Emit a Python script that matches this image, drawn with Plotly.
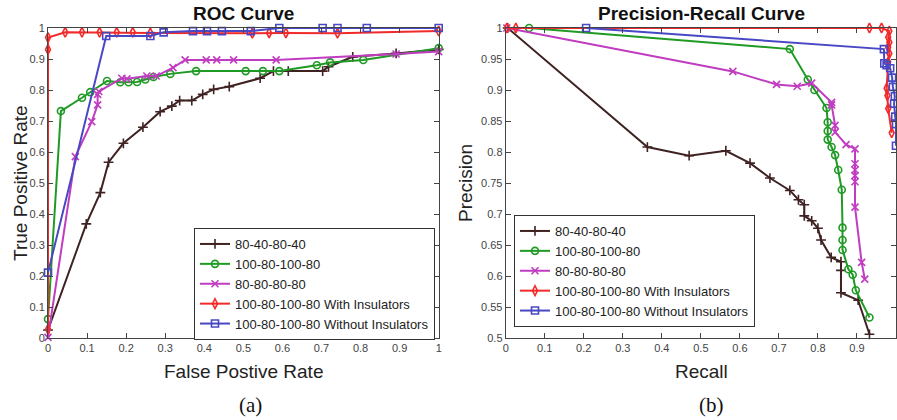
import plotly.graph_objects as go

# ---------------- ROC data ----------------
roc_b_x = [0, 0.098, 0.134, 0.155, 0.193, 0.243, 0.287, 0.317, 0.337, 0.368, 0.396, 0.424, 0.464, 0.543, 0.577, 0.615, 0.703, 0.718, 0.780, 0.891, 1.0]
roc_b_y = [0.026, 0.368, 0.469, 0.567, 0.628, 0.680, 0.730, 0.748, 0.766, 0.766, 0.786, 0.802, 0.811, 0.838, 0.861, 0.861, 0.861, 0.875, 0.907, 0.918, 0.931]

roc_g_x = [0, 0.033, 0.087, 0.108, 0.151, 0.185, 0.206, 0.228, 0.249, 0.270, 0.313, 0.379, 0.506, 0.550, 0.592, 0.688, 0.722, 0.807, 1.0]
roc_g_y = [0.061, 0.732, 0.775, 0.793, 0.829, 0.825, 0.825, 0.826, 0.834, 0.842, 0.852, 0.861, 0.861, 0.861, 0.861, 0.880, 0.889, 0.897, 0.935]

roc_m_x = [0, 0.070, 0.112, 0.127, 0.127, 0.130, 0.189, 0.202, 0.253, 0.277, 0.320, 0.351, 0.405, 0.432, 0.475, 0.584, 0.891, 1.0]
roc_m_y = [0.002, 0.585, 0.698, 0.752, 0.786, 0.795, 0.838, 0.836, 0.845, 0.845, 0.872, 0.897, 0.897, 0.897, 0.897, 0.897, 0.916, 0.924]

roc_r_x = [0, 0, 0, 0.044, 0.087, 0.132, 0.176, 0.217, 0.262, 0.523, 0.566, 0.609, 0.741, 1.0]
roc_r_y = [0.028, 0.931, 0.969, 0.986, 0.986, 0.986, 0.986, 0.986, 0.984, 0.983, 0.984, 0.984, 0.983, 0.990]

roc_u_x = [0, 0.149, 0.262, 0.296, 0.371, 0.407, 0.445, 0.519, 0.592, 0.703, 0.741, 0.816, 1.0]
roc_u_y = [0.211, 0.974, 0.974, 0.986, 0.990, 0.990, 0.990, 0.990, 1.0, 1.0, 1.0, 1.0, 1.0]

# ---------------- PR data ----------------
pr_b_x = [0.005, 0.363, 0.470, 0.564, 0.626, 0.677, 0.728, 0.750, 0.765, 0.765, 0.784, 0.800, 0.808, 0.834, 0.859, 0.859, 0.859, 0.903, 0.932]
pr_b_y = [1.0, 0.808, 0.794, 0.802, 0.782, 0.758, 0.738, 0.723, 0.715, 0.697, 0.689, 0.677, 0.658, 0.630, 0.623, 0.609, 0.573, 0.561, 0.506]

pr_g_x = [0.060, 0.728, 0.774, 0.791, 0.822, 0.825, 0.825, 0.825, 0.835, 0.844, 0.852, 0.861, 0.863, 0.863, 0.863, 0.878, 0.889, 0.897, 0.932]
pr_g_y = [1.0, 0.966, 0.917, 0.900, 0.871, 0.848, 0.834, 0.820, 0.808, 0.795, 0.771, 0.739, 0.678, 0.658, 0.642, 0.611, 0.602, 0.577, 0.533]

pr_m_x = [0.003, 0.582, 0.694, 0.747, 0.784, 0.835, 0.835, 0.844, 0.844, 0.872, 0.895, 0.895, 0.895, 0.895, 0.895, 0.895, 0.912, 0.920]
pr_m_y = [1.0, 0.930, 0.909, 0.906, 0.911, 0.880, 0.876, 0.843, 0.832, 0.812, 0.805, 0.781, 0.771, 0.762, 0.752, 0.711, 0.622, 0.595]

pr_r_x = [0.003, 0.026, 0.932, 0.963, 0.983, 0.980, 0.983, 0.980, 0.983, 0.980, 0.976, 0.978, 0.980, 0.989]
pr_r_y = [1.0, 1.0, 1.0, 1.0, 0.995, 0.985, 0.977, 0.969, 0.959, 0.945, 0.903, 0.891, 0.870, 0.831]

pr_u_x = [0.206, 0.969, 0.970, 0.976, 0.985, 0.990, 0.992, 0.997, 0.995, 0.998, 1.0, 1.0]
pr_u_y = [1.0, 0.966, 0.943, 0.940, 0.935, 0.920, 0.905, 0.890, 0.878, 0.857, 0.845, 0.810]

names = ["80-40-80-40", "100-80-100-80", "80-80-80-80",
         "100-80-100-80 With Insulators", "100-80-100-80 Without Insulators"]
colors = ["#3f2222", "#1f9a25", "#c03cc0", "#f22a2a", "#4848c4"]
symbols = ["cross-thin-open", "circle-open", "x-thin-open", "diamond-tall-open", "square-open"]

x01_ticks = [0, 0.1, 0.2, 0.3, 0.4, 0.5, 0.6, 0.7, 0.8, 0.9, 1]
x01_text = ["0", "0.1", "0.2", "0.3", "0.4", "0.5", "0.6", "0.7", "0.8", "0.9", "1"]
pr_y_ticks = [0.5, 0.55, 0.6, 0.65, 0.7, 0.75, 0.8, 0.85, 0.9, 0.95, 1]
pr_y_text = ["0.5", "0.55", "0.6", "0.65", "0.7", "0.75", "0.8", "0.85", "0.9", "0.95", "1"]

roc_series = [(roc_b_x, roc_b_y), (roc_g_x, roc_g_y), (roc_m_x, roc_m_y), (roc_r_x, roc_r_y), (roc_u_x, roc_u_y)]
pr_series = [(pr_b_x, pr_b_y), (pr_g_x, pr_g_y), (pr_m_x, pr_m_y), (pr_r_x, pr_r_y), (pr_u_x, pr_u_y)]

fig = go.Figure()

def add(xs, ys, i, xa, ya, leg):
    fig.add_trace(go.Scatter(
        x=xs, y=ys, mode="lines+markers", name=names[i],
        line=dict(color=colors[i], width=2),
        marker=dict(symbol=symbols[i], size=7, color=colors[i],
                    line=dict(color=colors[i], width=1.6)),
        xaxis=xa, yaxis=ya, legend=leg, cliponaxis=False))

for i, (xs, ys) in enumerate(roc_series):
    add(xs, ys, i, "x", "y", "legend")
for i, (xs, ys) in enumerate(pr_series):
    add(xs, ys, i, "x2", "y2", "legend2")

W, H = 897, 420
L, R, T, B = 48, 1, 28, 82
PW, PH = W - L - R, H - T - B

def px(xp):
    return (xp - L) / PW

def py(yp):
    return (H - B - yp) / PH

axcol = "#444444"
tickfont = dict(family="Liberation Sans, Arial", size=11, color="#444444")

def ax(domain, ticks, text, rng, anchor):
    return dict(domain=domain, range=rng, tickvals=ticks, ticktext=text,
                anchor=anchor, automargin=False,
                showgrid=False, zeroline=False, showline=True, linecolor=axcol,
                linewidth=1, mirror="ticks", ticks="inside", ticklen=5,
                tickcolor=axcol, tickfont=tickfont, fixedrange=True)

legfont = dict(family="Liberation Sans, Arial", size=13, color="#222222")
fig.update_layout(
    width=W, height=H, autosize=False,
    margin=dict(l=L, r=R, t=T, b=B, autoexpand=False),
    paper_bgcolor="white", plot_bgcolor="white",
    xaxis=ax([0, px(438.7)], x01_ticks, x01_text, [0, 1], "y"),
    yaxis=ax([0, 1], x01_ticks, x01_text, [0, 1], "x"),
    xaxis2=ax([px(505.7), 1], x01_ticks, x01_text, [0, 1], "y2"),
    yaxis2=ax([0, 1], pr_y_ticks, pr_y_text, [0.5, 1], "x2"),
    legend=dict(x=px(194), y=py(228), xanchor="left", yanchor="top",
                bgcolor="white", bordercolor="#333333", borderwidth=1,
                font=legfont, tracegroupgap=0, itemwidth=30),
    legend2=dict(x=px(514), y=py(215), xanchor="left", yanchor="top",
                 bgcolor="white", bordercolor="#333333", borderwidth=1,
                 font=legfont, tracegroupgap=0, itemwidth=30),
    showlegend=True,
)

lab = dict(family="Liberation Sans, Arial", size=19, color="#222222")
ttl = dict(family="Liberation Sans, Arial", size=19, color="#111111")
serif = dict(family="Liberation Serif, Times New Roman", size=21, color="#111111")
annots = [
    dict(text="<b>ROC Curve</b>", x=px(243), y=py(13), font=ttl),
    dict(text="<b>Precision-Recall Curve</b>", x=px(701), y=py(13), font=ttl),
    dict(text="False Postive Rate", x=px(243), y=py(371), font=lab),
    dict(text="Recall", x=px(701), y=py(371), font=lab),
    dict(text="True Positive Rate", x=px(20), y=py(183), font=lab, textangle=-90),
    dict(text="Precision", x=px(465), y=py(183), font=lab, textangle=-90),
    dict(text="(a)", x=px(250), y=py(405), font=serif),
    dict(text="(b)", x=px(711), y=py(405), font=serif),
]
for a in annots:
    fig.add_annotation(xref="paper", yref="paper", showarrow=False,
                       xanchor="center", yanchor="middle", **a)

fig.write_html("out.html", config={"displayModeBar": False},
               post_script="document.body.style.margin='0';document.body.style.overflow='hidden';")
